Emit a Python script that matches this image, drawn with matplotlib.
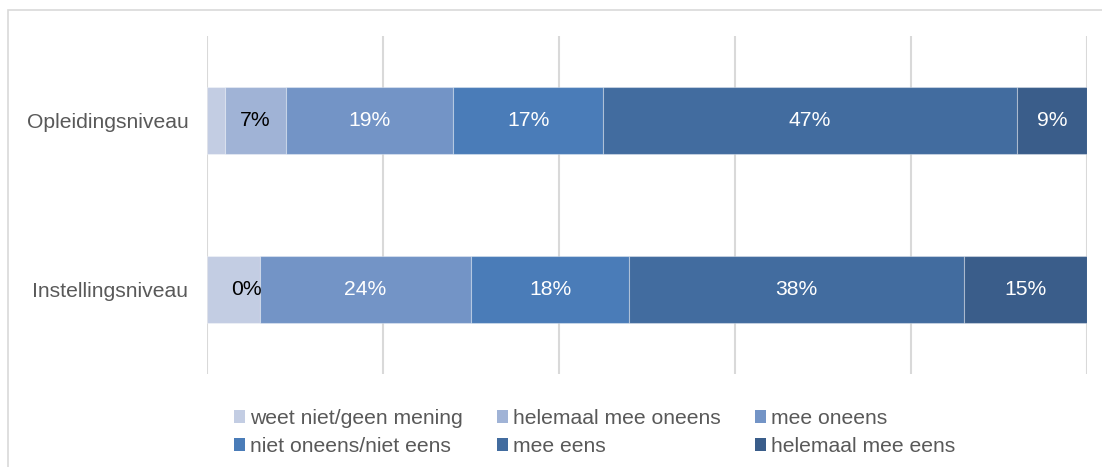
import numpy as np
import matplotlib
matplotlib.use("Agg")
import matplotlib.pyplot as plt
from matplotlib.patches import Patch, Rectangle

plt.rcParams["font.family"] = ["Liberation Sans", "DejaVu Sans"]

# --- Data ---
categories = ["Opleidingsniveau", "Instellingsniveau"]
series = [
    "weet niet/geen mening",
    "helemaal mee oneens",
    "mee oneens",
    "niet oneens/niet eens",
    "mee eens",
    "helemaal mee eens",
]
# share of each answer per category (percent), one list per series
weet_niet = [2.0, 6.0]
helemaal_oneens = [7.0, 0.0]
mee_oneens = [19.0, 24.0]
niet_oneens = [17.0, 18.0]
mee_eens = [47.0, 38.0]
helemaal_eens = [8.0, 14.0]
# data labels as printed in the chart (None = no label)
labels_weet_niet = [None, None]
labels_helemaal_oneens = ["7%", "0%"]
labels_mee_oneens = ["19%", "24%"]
labels_niet_oneens = ["17%", "18%"]
labels_mee_eens = ["47%", "38%"]
labels_helemaal_eens = ["9%", "15%"]

values = [weet_niet, helemaal_oneens, mee_oneens, niet_oneens, mee_eens, helemaal_eens]
labels = [labels_weet_niet, labels_helemaal_oneens, labels_mee_oneens,
          labels_niet_oneens, labels_mee_eens, labels_helemaal_eens]

# --- Style ---
colors = ["#C3CDE3", "#A0B3D6", "#7394C6", "#4A7CB8", "#426C9F", "#3A5D8A"]
label_colors = ["white", "black", "white", "white", "white", "white"]
GRAY = "#595959"
FS = 15.2

W, H = 1102, 467
fig = plt.figure(figsize=(W / 100, H / 100), dpi=100)
ax = fig.add_axes([207 / W, (H - 374) / H, 880 / W, 338 / H])

y = np.arange(len(categories))
left = np.zeros(len(categories))
for vals, labs, name, col, lcol in zip(values, labels, series, colors, label_colors):
    vals = np.array(vals)
    ax.barh(y, vals, left=left, height=0.4, color=col, label=name,
            edgecolor=(1, 1, 1, 0.35), linewidth=0.8, zorder=3)
    for yi, v, l, lab in zip(y, vals, left, labs):
        if lab is None:
            continue
        if v > 0:
            ax.text(l + v / 2, yi, lab, ha="center", va="center",
                    color=lcol, fontsize=FS, zorder=4)
        else:
            ax.text(l + 0.25, yi, lab, ha="right", va="center",
                    color=lcol, fontsize=FS, zorder=4)
    left = left + vals

ax.set_xlim(0, 100)
ax.set_ylim(-0.5, 1.5)
ax.invert_yaxis()
ax.set_xticks(np.arange(0, 101, 20))
ax.set_xticklabels([])
ax.set_yticks(y)
ax.set_yticklabels(categories, fontsize=FS, color=GRAY)
ax.tick_params(axis="both", length=0)
ax.tick_params(axis="y", pad=13.5)
ax.grid(axis="x", color="#D9D9D9", linewidth=1.5, zorder=0)
ax.set_axisbelow(True)
for s in ax.spines.values():
    s.set_visible(False)

# legend, 3 columns under the plot, filled row by row
ncol = 3
nrow = int(np.ceil(len(series) / ncol))
order = [r * ncol + c for c in range(ncol) for r in range(nrow)]
handles = [Patch(facecolor=c, edgecolor="none") for c in colors]
leg = fig.legend([handles[i] for i in order], [series[i] for i in order],
                 loc="upper left", ncol=ncol,
                 bbox_to_anchor=(234 / W, (H - 409) / H), frameon=False,
                 fontsize=FS, handlelength=0.52, handleheight=0.52,
                 handletextpad=0.24, columnspacing=1.62, labelspacing=0.43,
                 borderpad=0, borderaxespad=0)
for t in leg.get_texts():
    t.set_color(GRAY)

# light chart border (top and left visible)
fig.add_artist(Rectangle((8 / W, -0.1), 1.2, 1.1 - 10 / H,
                         transform=fig.transFigure, fill=False,
                         edgecolor="#D9D9D9", linewidth=1.2, clip_on=False))

fig.savefig("out.png", dpi=100)
